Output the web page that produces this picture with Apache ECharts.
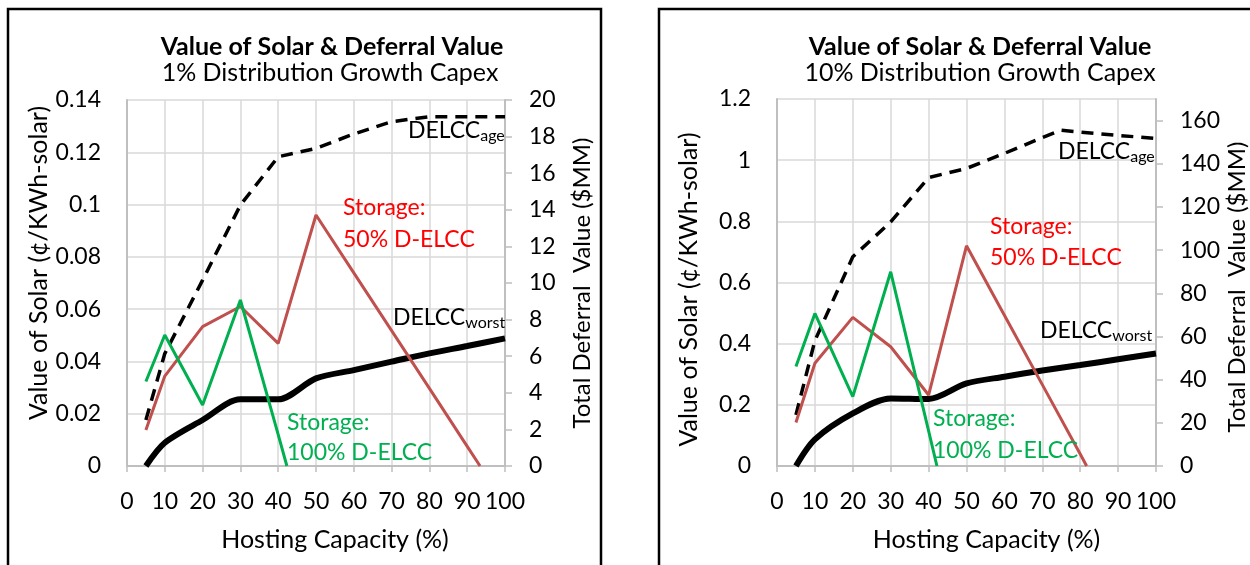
<!DOCTYPE html>
<html>
<head>
<meta charset="utf-8">
<script src="https://cdn.jsdelivr.net/npm/echarts@6/dist/echarts.min.js"></script>
<style>
html,body{margin:0;padding:0;background:#fff;}
#chart{width:1250px;height:565px;}
</style>
</head>
<body>
<div id="chart"></div>
<script>
// ---------- data ----------
const titleMain = "Value of Solar & Deferral Value";
const subtitles = ["1% Distribution Growth Capex", "10% Distribution Growth Capex"];
const xName = "Hosting Capacity (%)";
const yLeftName = "Value of Solar (¢/KWh-solar)";
const yRightName = "Total Deferral  Value ($MM)";

const hostingCap = [5, 10, 20, 30, 40, 50, 60, 70, 80, 90, 100];

// Panel 1 (1% growth capex)
const p1AgeX = [5, 10, 20, 30, 40, 50, 60, 70, 80, 90, 100];
const p1Age = [0.0176, 0.043, 0.0711, 0.0998, 0.1183, 0.1215, 0.127, 0.1317, 0.1336, 0.1336, 0.1336];
const p1Worst = [0, 0.0089, 0.0176, 0.0255, 0.0255, 0.0335, 0.0367, 0.0399, 0.0431, 0.0459, 0.0488];
const p1Sto50X = [5, 10, 20, 30, 40, 50, 60, 70, 80, 90, 93.4];
const p1Sto50 = [0.0138, 0.0344, 0.0533, 0.061, 0.0469, 0.096, 0.0739, 0.0518, 0.0297, 0.0075, 0];
const p1Sto100X = [5, 10, 20, 30, 40, 42.3];
const p1Sto100 = [0.0323, 0.0501, 0.0233, 0.0635, 0.012, 0];

// Panel 2 (10% growth capex)
const p2AgeX = [5, 10, 20, 30, 40, 50, 60, 70, 75, 80, 90, 100];
const p2Age = [0.167, 0.41, 0.684, 0.798, 0.943, 0.973, 1.022, 1.074, 1.098, 1.092, 1.081, 1.071];
const p2Worst = [0, 0.087, 0.172, 0.221, 0.219, 0.27, 0.292, 0.312, 0.33, 0.349, 0.368];
const p2Sto50X = [5, 10, 20, 30, 40, 50, 60, 70, 80, 81.7];
const p2Sto50 = [0.142, 0.336, 0.486, 0.39, 0.232, 0.72, 0.493, 0.266, 0.039, 0];
const p2Sto100X = [5, 10, 20, 30, 40, 42.2];
const p2Sto100 = [0.325, 0.499, 0.227, 0.635, 0.115, 0];

// axis ranges
const p1Left = {min: 0, max: 0.14, interval: 0.02};
const p1Right = {min: 0, max: 20, interval: 2};
const p2Left = {min: 0, max: 1.2, interval: 0.2};
const p2Right = {min: 0, max: 170, interval: 20};

// ---------- styling ----------
const FONT = "Lato, 'Open Sans', sans-serif";
const GRID_C = "#D9D9D9";
const AXIS_C = "#BFBFBF";
const RED_LINE = "#C0504D";
const GREEN = "#00B050";
const TICK_FS = 23;
const NOTE_FS = 23;

const pair = (xs, ys) => xs.map((x, i) => [x, ys[i]]);

function xAxis(gi, padLeft) {
  return {
    type: 'value', gridIndex: gi, min: 0, max: 100, interval: 10,
    axisLine: {show: true, onZero: false, lineStyle: {color: AXIS_C, width: 2}},
    axisTick: {show: true, length: 6, lineStyle: {color: AXIS_C, width: 1.5}},
    splitLine: {show: true, lineStyle: {color: GRID_C, width: 1.5}},
    axisLabel: {color: '#000', fontFamily: FONT, fontSize: TICK_FS, margin: 24},
    name: xName, nameLocation: 'middle', nameGap: 61,
    nameTextStyle: {color: '#000', fontFamily: FONT, fontSize: 25, padding: [0, 0, 0, padLeft]}
  };
}
function yLeft(gi, r, pad) {
  return {
    type: 'value', gridIndex: gi, position: 'left', min: r.min, max: r.max, interval: r.interval,
    axisLine: {show: true, lineStyle: {color: AXIS_C, width: 2}},
    axisTick: {show: false},
    splitLine: {show: true, lineStyle: {color: GRID_C, width: 1.5}},
    axisLabel: {color: '#000', fontFamily: FONT, fontSize: TICK_FS, margin: 26,
      formatter: v => String(+v.toFixed(3))},
    name: yLeftName, nameLocation: 'middle', nameGap: 76, nameRotate: 90,
    nameTextStyle: {color: '#000', fontFamily: FONT, fontSize: 25, padding: pad}
  };
}
function yRight(gi, r, pad, gap) {
  return {
    type: 'value', gridIndex: gi, position: 'right', min: r.min, max: r.max, interval: r.interval,
    axisLine: {show: true, lineStyle: {color: AXIS_C, width: 2}},
    axisTick: {show: true, length: 7, lineStyle: {color: AXIS_C, width: 1.5}},
    splitLine: {show: false},
    axisLabel: {color: '#000', fontFamily: FONT, fontSize: TICK_FS, margin: 24, showMaxLabel: r.max % r.interval === 0},
    name: yRightName, nameLocation: 'middle', nameGap: gap, nameRotate: 90,
    nameTextStyle: {color: '#000', fontFamily: FONT, fontSize: 24, padding: pad}
  };
}
function lines(xi, yi, age, worst, s50, s100) {
  return [
    {type: 'line', xAxisIndex: xi, yAxisIndex: yi, data: age, showSymbol: false, clip: true,
      lineStyle: {color: '#000', width: 3.5, type: [12, 8]}, z: 3},
    {type: 'line', xAxisIndex: xi, yAxisIndex: yi, data: worst, showSymbol: false, clip: true, smooth: 0.3,
      lineStyle: {color: '#000', width: 6}, z: 4},
    {type: 'line', xAxisIndex: xi, yAxisIndex: yi, data: s50, showSymbol: false, clip: true,
      lineStyle: {color: RED_LINE, width: 3}, z: 5},
    {type: 'line', xAxisIndex: xi, yAxisIndex: yi, data: s100, showSymbol: false, clip: true,
      lineStyle: {color: GREEN, width: 3}, z: 6}
  ];
}

function txt(x, y, text, color) {
  return {type: 'text', x: x, y: y, z: 100,
    style: {text: text, fill: color, font: NOTE_FS + "px " + FONT, textVerticalAlign: 'middle'}};
}
function delcc(x, y, sub) {
  return {type: 'text', x: x, y: y, z: 100,
    style: {text: '{a|DELCC}{s|' + sub + '}', textVerticalAlign: 'middle',
      rich: {a: {fontFamily: FONT, fontSize: NOTE_FS, fill: '#000', color: '#000', lineHeight: 26},
             s: {fontFamily: FONT, fontSize: 16, fill: '#000', color: '#000', lineHeight: 10, verticalAlign: 'bottom'}}}};
}

const option = {
  backgroundColor: '#fff',
  animation: false,
  title: [
    {text: titleMain, left: 332, top: 32, textAlign: 'center', padding: 0,
      textStyle: {fontFamily: FONT, fontSize: 25, fontWeight: 'bold', color: '#000', lineHeight: 30}},
    {text: subtitles[0], left: 330, top: 59, textAlign: 'center', padding: 0,
      textStyle: {fontFamily: FONT, fontSize: 25, fontWeight: 'normal', color: '#000', lineHeight: 28}},
    {text: titleMain, left: 980, top: 32, textAlign: 'center', padding: 0,
      textStyle: {fontFamily: FONT, fontSize: 25, fontWeight: 'bold', color: '#000', lineHeight: 30}},
    {text: subtitles[1], left: 980, top: 59, textAlign: 'center', padding: 0,
      textStyle: {fontFamily: FONT, fontSize: 25, fontWeight: 'normal', color: '#000', lineHeight: 28}}
  ],
  grid: [
    {left: 127, top: 100, width: 378, height: 366},
    {left: 777, top: 99, width: 379, height: 367}
  ],
  xAxis: [xAxis(0, 38), xAxis(1, 40)],
  yAxis: [
    yLeft(0, p1Left, [0, 0, 0, 40]),
    yRight(0, p1Right, [0, 0, 0, 0], 65),
    yLeft(1, p2Left, [0, 14, 0, 0]),
    yRight(1, p2Right, [0, 9, 0, 0], 69)
  ],
  series: [
    ...lines(0, 0, pair(p1AgeX, p1Age), pair(hostingCap, p1Worst), pair(p1Sto50X, p1Sto50), pair(p1Sto100X, p1Sto100)),
    ...lines(1, 2, pair(p2AgeX, p2Age), pair(hostingCap, p2Worst), pair(p2Sto50X, p2Sto50), pair(p2Sto100X, p2Sto100))
  ],
  graphic: [
    {type: 'rect', shape: {x: 8, y: 9, width: 593, height: 600}, style: {fill: 'none', stroke: '#000', lineWidth: 2.5}, z: 0},
    {type: 'rect', shape: {x: 659, y: 9, width: 700, height: 600}, style: {fill: 'none', stroke: '#000', lineWidth: 2.5}, z: 0},
    delcc(408, 131, 'age'),
    txt(343, 208, 'Storage:', '#FF0000'),
    txt(343, 240, '50% D-ELCC', '#FF0000'),
    delcc(393, 318, 'worst'),
    txt(287, 423, 'Storage:', GREEN),
    txt(287, 453, '100% D-ELCC', GREEN),
    delcc(1058, 152, 'age'),
    txt(990, 227, 'Storage:', '#FF0000'),
    txt(990, 258, '50% D-ELCC', '#FF0000'),
    delcc(1040, 331, 'worst'),
    txt(933, 419, 'Storage:', GREEN),
    txt(933, 451, '100% D-ELCC', GREEN)
  ]
};

const chart = echarts.init(document.getElementById('chart'), null, {renderer: 'canvas'});
chart.setOption(option);
</script>
</body>
</html>
